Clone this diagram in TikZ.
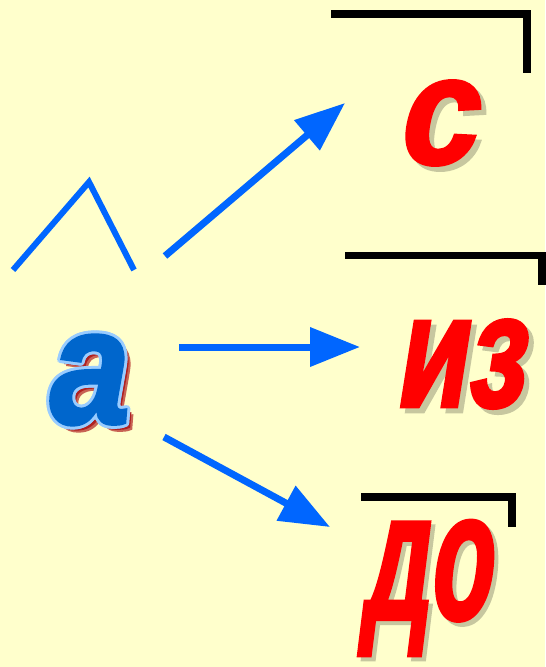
\documentclass[tikz,border=0pt]{standalone}
\usepackage{fontspec}
\usepackage{graphicx}
\usetikzlibrary{arrows.meta,positioning}
\newfontfamily\heavyfont[FakeBold=2]{Liberation Sans}
\newfontfamily\slantfont[FakeBold=2.5,FakeSlant=0.22]{Liberation Sans}
\definecolor{paper}{HTML}{FFFFCC}
\definecolor{arrowblue}{HTML}{0066FF}
\definecolor{letterblue}{HTML}{0066CC}
\definecolor{rimblue}{HTML}{99CCFF}
\definecolor{wordred}{HTML}{FF0000}
\definecolor{shadowred}{HTML}{B02020}
\newcommand{\letterbox}[3]{\resizebox*{#1}{#2}{\heavyfont\bfseries\itshape #3}}
\newcommand{\wordbox}[3]{\resizebox*{#1}{#2}{\slantfont\bfseries #3}}

\begin{document}
\begin{tikzpicture}[
    x=1pt, y=-1pt,
    pointer/.style={-{Triangle[length=50pt,width=38pt]}, line width=7pt, arrowblue},
    hat/.style={line width=6pt, arrowblue},
    bracket/.style={line width=7.5pt, black, line join=miter},
    word/.style={inner sep=0pt, text=wordred},
    wordshadow/.style={inner sep=0pt, text=paper!78!black}
  ]
  \fill[paper] (0,0) rectangle (545,667);

  % the letter with its rim and shadow
  \node[inner sep=0pt, text=shadowred!70!paper] at (96,386) {\letterbox{80pt}{90pt}{a}};
  \node[inner sep=0pt, text=shadowred] at (94,384) {\letterbox{80pt}{90pt}{a}};
  \foreach \ang in {0,30,...,330}
    \node[inner sep=0pt, text=rimblue, shift={(\ang:3)}] at (90,380) {\letterbox{80pt}{90pt}{a}};
  \node[inner sep=0pt, text=letterblue] (a) at (90,380) {\letterbox{80pt}{90pt}{a}};

  % the mark above it
  \coordinate (hatL) at (13,270);
  \coordinate (hatT) at (89,182);
  \coordinate (hatR) at (134,270);
  \draw[hat] (hatL) -- (hatT) -- (hatR);

  % the three words
  \node[wordshadow] at (439,128) {\wordbox{78pt}{84pt}{с}};
  \node[word] (s) at (434,123) {\wordbox{78pt}{84pt}{с}};
  \node[wordshadow] at (463,369) {\wordbox{129pt}{88pt}{из}};
  \node[word] (iz) at (458,364) {\wordbox{129pt}{88pt}{из}};
  \node[wordshadow] at (430,592) {\wordbox{128pt}{134pt}{до}};
  \node[word] (do) at (426,588) {\wordbox{128pt}{134pt}{до}};

  % brackets over the words
  \draw[bracket] (331,14) -| (527,73);
  \draw[bracket] (345,255.5) -| (542,285);
  \draw[bracket] (361,497) -| (512,527);

  % arrows
  \coordinate (s-from) at (165,256);
  \coordinate (s-to) at (345,103);
  \coordinate (iz-from) at (179,347);
  \coordinate (iz-to) at (360,347);
  \coordinate (do-from) at (164,437);
  \coordinate (do-to) at (330,527);
  \draw[pointer] (s-from) -- (s-to);
  \draw[pointer] (iz-from) -- (iz-to);
  \draw[pointer] (do-from) -- (do-to);
\end{tikzpicture}
\end{document}
